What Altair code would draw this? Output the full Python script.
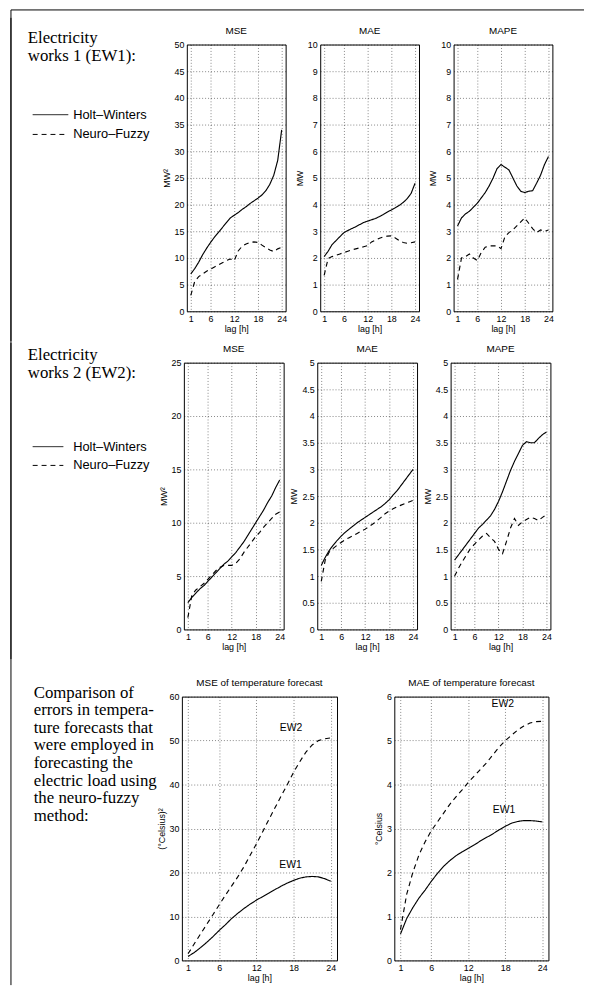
import altair as alt
import pandas as pd

lags = list(range(1, 25))
x_ticks = [1, 6, 12, 18, 24]
methods = ["Holt–Winters", "Neuro–Fuzzy"]
regions = ["EW1", "EW2"]

# ---- EW1 ----
ew1_mse_hw = [7.0, 8.0, 9.2, 10.6, 11.8, 12.9, 13.9, 14.8, 15.7, 16.6, 17.5, 18.0,
              18.5, 19.1, 19.6, 20.2, 20.7, 21.2, 21.8, 22.6, 23.8, 25.5, 28.3, 34.0]
ew1_mse_nf = [3.0, 5.6, 6.5, 7.0, 7.5, 7.9, 8.3, 8.7, 9.1, 9.5, 9.8, 9.5,
              11.3, 12.2, 12.6, 12.9, 13.0, 12.9, 12.4, 11.9, 11.5, 11.2, 11.7, 12.0]
ew1_mae_hw = [2.05, 2.25, 2.5, 2.65, 2.8, 2.95, 3.03, 3.1, 3.17, 3.25, 3.33, 3.38,
              3.43, 3.48, 3.55, 3.63, 3.72, 3.8, 3.88, 3.97, 4.08, 4.22, 4.42, 4.8]
ew1_mae_nf = [1.35, 1.98, 2.05, 2.1, 2.15, 2.2, 2.25, 2.3, 2.34, 2.38, 2.42, 2.46,
              2.6, 2.67, 2.74, 2.79, 2.82, 2.83, 2.75, 2.65, 2.58, 2.55, 2.57, 2.6]
ew1_mape_hw = [3.2, 3.5, 3.65, 3.75, 3.9, 4.05, 4.25, 4.45, 4.7, 5.0, 5.35, 5.5,
               5.4, 5.3, 5.0, 4.7, 4.5, 4.45, 4.5, 4.52, 4.8, 5.1, 5.5, 5.8]
ew1_mape_nf = [1.2, 2.0, 2.05, 2.15, 2.0, 1.9, 2.2, 2.4, 2.45, 2.45, 2.45, 2.35,
               2.8, 2.95, 3.05, 3.2, 3.35, 3.5, 3.3, 3.1, 2.95, 3.05, 3.0, 3.05]

# ---- EW2 ----
ew2_mse_hw = [2.5, 3.0, 3.4, 3.8, 4.1, 4.5, 4.9, 5.3, 5.7, 6.1, 6.4, 6.8,
              7.2, 7.7, 8.2, 8.8, 9.4, 10.0, 10.6, 11.2, 11.9, 12.5, 13.3, 14.0]
ew2_mse_nf = [1.1, 3.2, 3.7, 4.0, 4.3, 4.7, 5.1, 5.5, 5.8, 6.0, 6.0, 6.0,
              6.2, 6.6, 7.2, 7.7, 8.2, 8.7, 9.1, 9.6, 10.0, 10.4, 10.8, 11.0]
ew2_mae_hw = [1.2, 1.35, 1.48, 1.58, 1.67, 1.75, 1.82, 1.88, 1.94, 2.0, 2.05, 2.1,
              2.15, 2.2, 2.25, 2.3, 2.36, 2.43, 2.52, 2.6, 2.7, 2.8, 2.9, 3.0]
ew2_mae_nf = [0.9, 1.3, 1.45, 1.52, 1.58, 1.63, 1.68, 1.72, 1.76, 1.8, 1.84, 1.88,
              1.93, 1.98, 2.04, 2.1, 2.17, 2.22, 2.26, 2.3, 2.33, 2.36, 2.39, 2.42]
ew2_mape_hw = [1.3, 1.4, 1.5, 1.6, 1.7, 1.8, 1.9, 1.97, 2.05, 2.13, 2.25, 2.4,
               2.58, 2.78, 2.98, 3.15, 3.3, 3.45, 3.52, 3.5, 3.5, 3.58, 3.65, 3.7]
ew2_mape_nf = [1.0, 1.15, 1.28, 1.4, 1.52, 1.6, 1.68, 1.75, 1.8, 1.72, 1.65, 1.5,
               1.42, 1.65, 1.9, 2.08, 1.95, 2.02, 2.06, 2.1, 2.08, 2.04, 2.1, 2.15]

# ---- temperature forecast errors ----
temp_mse_ew1 = [0.9, 1.8, 2.9, 4.1, 5.4, 6.8, 8.1, 9.5, 10.7, 11.8, 12.8, 13.7,
                14.5, 15.3, 16.1, 16.9, 17.6, 18.2, 18.7, 19.0, 19.1, 19.0, 18.6, 18.0]
temp_mse_ew2 = [1.5, 3.8, 6.0, 8.2, 10.4, 12.6, 14.8, 16.9, 19.0, 21.3, 23.9, 26.5,
                29.2, 32.0, 34.7, 37.4, 40.0, 42.8, 45.2, 47.4, 49.0, 50.0, 50.4, 50.6]
temp_mae_ew1 = [0.6, 0.95, 1.2, 1.42, 1.6, 1.8, 1.98, 2.14, 2.27, 2.38, 2.47, 2.55,
                2.63, 2.72, 2.8, 2.88, 2.97, 3.05, 3.12, 3.16, 3.18, 3.18, 3.17, 3.15]
temp_mae_ew2 = [0.7, 1.5, 2.0, 2.4, 2.7, 2.95, 3.15, 3.35, 3.55, 3.72, 3.88, 4.05,
                4.2, 4.35, 4.5, 4.68, 4.85, 5.0, 5.12, 5.24, 5.33, 5.4, 5.43, 5.44]

# in-plot labels (lag, value, text)
mse_lbl_lag = [17.6, 17.5]
mse_lbl_val = [52.8, 21.7]
mae_lbl_lag = [17.6, 17.8]
mae_lbl_val = [5.82, 3.41]
lbl_text = ["EW2", "EW1"]

SANS = "Liberation Sans"
SERIF = "Liberation Serif"


def plot_panel(series, names, ymax, yticks, title, ytitle, w, h, labels=None):
    rows = []
    for name, vals in zip(names, series):
        for l, v in zip(lags, vals):
            rows.append({"lag": l, "value": v, "series": name})
    df = pd.DataFrame(rows)
    xenc = alt.X("lag:Q", scale=alt.Scale(domain=[0, 25], nice=False, zero=False),
                 axis=alt.Axis(values=x_ticks, title="lag [h]", format="d"))
    yenc = alt.Y("value:Q", scale=alt.Scale(domain=[0, ymax], nice=False),
                 axis=alt.Axis(values=yticks, title=ytitle, format="~r"))
    lines = alt.Chart(df).mark_line(color="black", strokeWidth=1.15).encode(
        x=xenc, y=yenc,
        strokeDash=alt.StrokeDash("series:N",
                                  scale=alt.Scale(domain=names, range=[[1, 0], [5, 3]]),
                                  legend=None),
    )
    layers = [lines]
    if labels is not None:
        ldf = pd.DataFrame({"lag": labels[0], "value": labels[1], "txt": labels[2]})
        layers.append(
            alt.Chart(ldf).mark_text(font=SANS, fontSize=10.5, color="black").encode(
                x=xenc, y=yenc, text="txt:N")
        )
    return alt.layer(*layers).properties(width=w, height=h, title=title)


def side_panel(w, h, serif, serif_size, rules, legend=None):
    sdf = pd.DataFrame(serif, columns=["t", "x", "y"])
    rdf = pd.DataFrame(rules, columns=["x", "y", "x2", "y2"])
    layers = [
        alt.Chart(sdf).mark_text(font=SERIF, fontSize=serif_size, align="left",
                                 baseline="alphabetic", color="black").encode(
            x=alt.X("x:Q", scale=None, axis=None), y=alt.Y("y:Q", scale=None, axis=None),
            text="t:N"),
    ]
    if legend is not None:
        (x1, x2, tx, ys) = legend
        ldf = pd.DataFrame({"m": methods, "x": [x1, x1], "x2": [x2, x2], "y": ys,
                            "tx": [tx, tx]})
        layers.append(
            alt.Chart(ldf).mark_rule(color="black", strokeWidth=1).encode(
                x=alt.X("x:Q", scale=None, axis=None), x2="x2:Q",
                y=alt.Y("y:Q", scale=None, axis=None),
                strokeDash=alt.StrokeDash("m:N", scale=alt.Scale(domain=methods,
                                          range=[[1, 0], [5, 4]]), legend=None)))
        layers.append(
            alt.Chart(ldf).mark_text(font=SANS, fontSize=13, align="left",
                                     baseline="middle", color="black").encode(
                x=alt.X("tx:Q", scale=None, axis=None),
                y=alt.Y("y:Q", scale=None, axis=None), text="m:N"))
    layers.append(
        alt.Chart(rdf).mark_rule(color="black", strokeWidth=1).encode(
            x=alt.X("x:Q", scale=None, axis=None), y=alt.Y("y:Q", scale=None, axis=None),
            x2="x2:Q", y2="y2:Q"))
    return alt.layer(*layers).properties(
        width=w, height=h, view=alt.ViewBackground(stroke="transparent"))


# Row 1: top frame line (also fixes the row's top extent); left segment to y=300
side1 = side_panel(145, 270,
                   [("Electricity", 19, -2), ("works 1 (EW1):", 19, 17)], 17,
                   [(2, -35, 2, 300), (2, -35, 582, -35)],
                   legend=(24, 60, 65, [71, 91]))
r1 = alt.hconcat(
    side1,
    plot_panel([ew1_mse_hw, ew1_mse_nf], methods, 50, list(range(0, 51, 5)), "MSE", "MW²", 100, 270),
    plot_panel([ew1_mae_hw, ew1_mae_nf], methods, 10, list(range(0, 11)), "MAE", "MW", 100, 270),
    plot_panel([ew1_mape_hw, ew1_mape_nf], methods, 10, list(range(0, 11)), "MAPE", "MW", 100, 270),
    spacing=35, bounds="flush")

# Row 2
half = [i * 0.5 for i in range(11)]
side2 = side_panel(143, 270,
                   [("Electricity", 19, -3), ("works 2 (EW2):", 19, 16)], 17,
                   [(2, -20, 2, 300)],
                   legend=(24, 55, 65, [85, 104]))
r2 = alt.hconcat(
    side2,
    plot_panel([ew2_mse_hw, ew2_mse_nf], methods, 25, list(range(0, 26, 5)), "MSE", "MW²", 101, 270),
    plot_panel([ew2_mae_hw, ew2_mae_nf], methods, 5, half, "MAE", "MW", 101, 270),
    plot_panel([ew2_mape_hw, ew2_mape_nf], methods, 5, half, "MAPE", "MW", 101, 270),
    spacing=34, bounds="flush")

# Row 3: the full-height left frame line lives here
txt3 = ["Comparison of", "errors in tempera-", "ture forecasts that", "were employed in",
        "forecasting the", "electric load using", "the neuro-fuzzy", "method:"]
side3 = side_panel(117, 267, [(t, 25, 1 + i * 17.8) for i, t in enumerate(txt3)], 17,
                   [(2, -687, 2, 292)])
r3 = alt.hconcat(
    side3,
    plot_panel([temp_mse_ew1, temp_mse_ew2], regions, 60, list(range(0, 61, 10)),
               "MSE of temperature forecast", "(°Celsius)²", 157, 267,
               labels=(mse_lbl_lag, mse_lbl_val, lbl_text)),
    plot_panel([temp_mae_ew1, temp_mae_ew2], regions, 6, list(range(0, 7)),
               "MAE of temperature forecast", "°Celsius", 156, 267,
               labels=(mae_lbl_lag, mae_lbl_val, lbl_text)),
    spacing=58, bounds="flush")

top = alt.vconcat(r1, r2, spacing=0)
chart = alt.vconcat(top, r3, spacing=-651).properties(
    padding={"left": 0, "top": -5, "right": 0, "bottom": 0}, background="white"
).configure_axis(
    labelFont=SANS, labelFontSize=9, labelColor="black", labelPadding=3,
    labelFlush=False,
    titleFont=SANS, titleFontSize=9, titleFontWeight="normal", titleColor="black",
    titlePadding=3,
    grid=True, gridColor="black", gridDash=[1, 2], gridWidth=0.6, gridOpacity=0.8,
    domain=False, ticks=False,
).configure_axisX(titlePadding=1).configure_view(
    stroke="black", strokeWidth=1
).configure_title(
    font=SANS, fontSize=10, fontWeight="normal", color="black", offset=5
)

chart.save("out.html", embed_options={"renderer": "svg", "actions": False})
